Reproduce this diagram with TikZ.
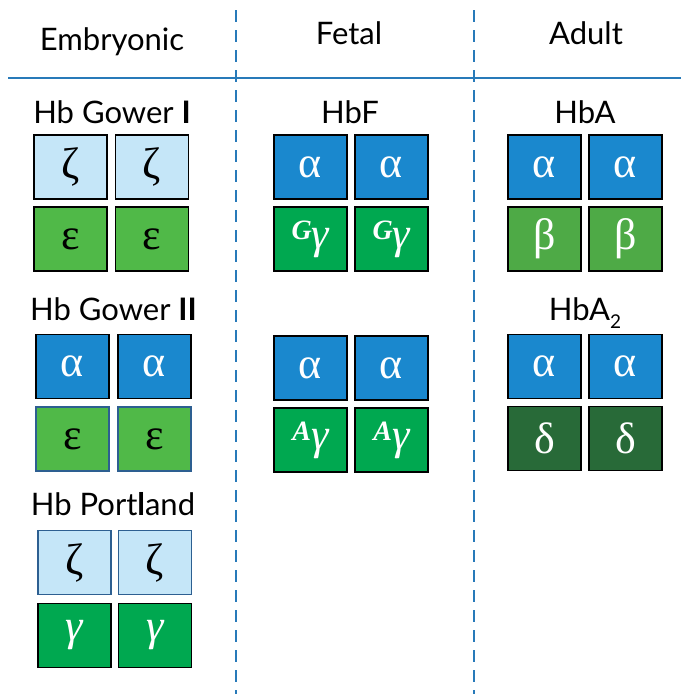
\documentclass[tikz,border=0pt]{standalone}
\usepackage{fontspec}
\setmainfont{Lato}
\newfontfamily\grk{Liberation Serif}
\definecolor{zetac}{RGB}{197,230,248}
\definecolor{alphac}{RGB}{26,136,206}
\definecolor{epsc}{RGB}{80,185,72}
\definecolor{gamc}{RGB}{0,168,80}
\definecolor{betac}{RGB}{78,170,70}
\definecolor{deltac}{RGB}{40,106,56}
\definecolor{linec}{RGB}{40,122,185}
\definecolor{edgeb}{RGB}{45,95,145}
\newcommand{\supl}[1]{\raisebox{9pt}{\fontsize{28}{28}\selectfont\bfseries\itshape #1}}
\tikzset{
  sub/.style={draw=black, line width=1.6pt, minimum width=73pt, minimum height=64pt, inner sep=0pt, font=\grk\fontsize{44}{46}\selectfont},
  zb/.style={sub, fill=zetac, text=black},
  ab/.style={sub, fill=alphac, text=white},
  eb/.style={sub, fill=epsc, text=black},
  gb/.style={sub, fill=gamc, text=white},
  bb/.style={sub, fill=betac, text=white},
  db/.style={sub, fill=deltac, text=white},
  lbl/.style={font=\fontsize{31}{34}\selectfont, inner sep=0pt, anchor=base},
  hdr/.style={font=\fontsize{31}{34}\selectfont, inner sep=0pt, anchor=base},
  sep/.style={draw=linec, line width=1.5pt, dash pattern=on 12pt off 8pt},
}
\begin{document}
\begin{tikzpicture}[x=1pt,y=-1pt]
\useasboundingbox (0,0) rectangle (681,694);
% separators
\coordinate (d1t) at (236,10); \coordinate (d1b) at (236,694);
\coordinate (d2t) at (474,10); \coordinate (d2b) at (474,694);
\coordinate (hl) at (8,78); \coordinate (hr) at (681,78);
\draw[sep] (d1t) -- (d1b);
\draw[sep] (d2t) -- (d2b);
\draw[draw=linec, line width=2pt] (hl) -- (hr);
% headers
\node[hdr] (hE) at (112,50) {Embryonic};
\node[hdr] (hF) at (349,44) {Fetal};
\node[hdr] (hA) at (586,44) {Adult};
% Embryonic
\node[lbl] (lg1) at (112,123) {Hb Gower \textbf{I}};
\node[zb] (g1a) at (70.5,167) {ζ};
\node[zb] (g1b) at (152,167) {ζ};
\node[eb] (g1c) at (70.5,239) {ε};
\node[eb] (g1d) at (152,239) {ε};
\node[lbl] (lg2) at (113.5,320) {Hb Gower \textbf{II}};
\node[ab] (g2a) at (72.5,366.5) {α};
\node[ab] (g2b) at (154.5,366.5) {α};
\node[eb, draw=edgeb] (g2c) at (72.5,439) {ε};
\node[eb, draw=edgeb] (g2d) at (154.5,439) {ε};
\node[lbl] (lp) at (113,515) {Hb Port\textbf{l}and};
\node[zb, draw=edgeb] (pa) at (74.5,562.5) {ζ};
\node[zb, draw=edgeb] (pb) at (155,562.5) {ζ};
\node[gb] (pc) at (74.5,635.5) {\itshape γ};
\node[gb] (pd) at (155,635.5) {\itshape γ};
% Fetal
\node[lbl] (lf) at (350,123) {HbF};
\node[ab] (fa) at (310.5,167) {α};
\node[ab] (fb) at (391.5,167) {α};
\node[gb] (fc) at (310.5,239) {\supl{G}\itshape γ};
\node[gb] (fd) at (391.5,239) {\supl{G}\itshape γ};
\node[ab] (fe) at (310.5,368) {α};
\node[ab] (ff) at (391.5,368) {α};
\node[gb] (fg) at (310.5,440) {\supl{A}\itshape γ};
\node[gb] (fh) at (391.5,440) {\supl{A}\itshape γ};
% Adult
\node[lbl] (la) at (585,123) {HbA};
\node[ab] (aa) at (544.5,167) {α};
\node[ab] (ab2) at (625.5,167) {α};
\node[bb] (ac) at (544.5,239) {β};
\node[bb] (ad) at (625.5,239) {β};
\node[lbl] (la2) at (585,320) {HbA\raisebox{-8pt}{\fontsize{19}{19}\selectfont 2}};
\node[ab] (ae) at (544.5,366.5) {α};
\node[ab] (af) at (625.5,366.5) {α};
\node[db] (ag) at (544.5,438.5) {δ};
\node[db] (ah) at (625.5,438.5) {δ};
\end{tikzpicture}
\end{document}
